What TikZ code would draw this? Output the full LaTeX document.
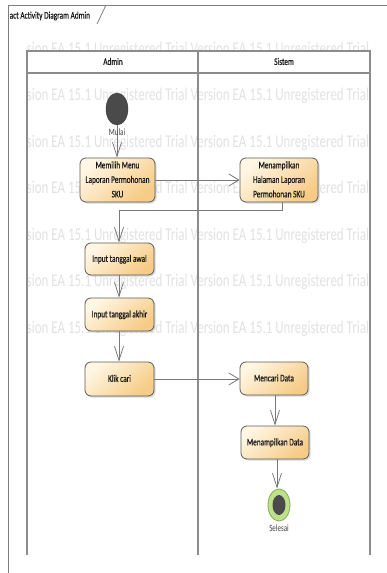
\documentclass[tikz,border=0pt]{standalone}
\usepackage{fontspec}
\usepackage{graphicx}
\setmainfont{Carlito}
\newfontfamily\heavyfont[FakeBold=0.6]{Carlito}
\usetikzlibrary{arrows.meta,shapes.geometric,shadows}

% tall text: the drawing is stretched vertically
\newcommand{\talltext}[1]{\scalebox{1}[1.38]{\begin{tabular}{@{}c@{}}#1\end{tabular}}}
\newcommand{\tallline}[1]{\scalebox{1}[1.38]{#1}}

\definecolor{framegray}{HTML}{7F7F7F}
\definecolor{lanegray}{HTML}{8C8C8C}
\definecolor{flowgray}{HTML}{7A7A7A}
\definecolor{boxborder}{HTML}{5C5C5C}
\definecolor{boxlight}{HTML}{FFF6E4}
\definecolor{boxdark}{HTML}{F6CB85}
\definecolor{markgray}{HTML}{E2E2E2}
\definecolor{nodegray}{HTML}{4A4A4A}
\definecolor{ringgreen}{HTML}{BFE08A}
\definecolor{ringedge}{HTML}{7FAE4E}
\definecolor{inktext}{HTML}{1A1A1A}

\tikzset{
  action/.style={draw=boxborder, line width=0.8pt, rounded corners=6pt,
    top color=boxlight, bottom color=boxdark, shading angle=40,
    inner sep=0pt, align=center, text=inktext,
    font=\heavyfont\fontsize{7.3}{10.5}\selectfont,
    drop shadow={shadow xshift=1.6pt, shadow yshift=-1.6pt, opacity=0.3, fill=gray}},
  flowv/.style={draw=flowgray, line width=0.8pt, -{Straight Barb[length=14pt,width=9pt]}},
  flowh/.style={draw=flowgray, line width=0.8pt, -{Straight Barb[length=10pt,width=12pt]}},
  lane/.style={draw=lanegray, line width=1.1pt},
  caption/.style={inner sep=0pt, text=inktext, font=\heavyfont\fontsize{7.3}{9}\selectfont},
  smalllabel/.style={inner sep=0pt, text=black!75, font=\fontsize{7}{9}\selectfont},
  watermark/.style={inner sep=0pt, text=markgray, font=\fontsize{13}{15}\selectfont}
}

\begin{document}
\begin{tikzpicture}[x=1pt, y=-1pt]
\useasboundingbox (0,0) rectangle (387,573);
\fill[white] (0,0) rectangle (387,573);

% trial watermark behind the partitions
\begin{scope}
  \clip (27,0) rectangle (372,573);
  \foreach \yy [count=\i] in {54,100.5,147,193.5,240,286.5,333.5}
    \node[watermark, anchor=base west] (wm\i) at (9,\yy)
      {\tallline{Version EA 15.1 Unregistered Trial Version EA 15.1 Unregistered Trial}};
\end{scope}

% diagram frame and its name tab
\draw[framegray, line width=1pt] (8,573) -- (8,5) -- (387,5);
\draw[framegray, line width=0.8pt] (106,5) -- (97,24);
\node[caption, anchor=west] (frametitle) at (9.5,16) {\tallline{act Activity Diagram Admin}};

% swimlanes
\fill[white] (27,51) rectangle (370,73);
\draw[lane] (27,555) -- (27,51) -- (370,51) -- (370,555);
\draw[lane] (27,73) -- (370,73);
\draw[lane] (198,51) -- (198,555);
\node[caption] (hAdmin) at (113,61.5) {\tallline{Admin}};
\node[caption] (hSistem) at (284,61.5) {\tallline{Sistem}};

% start node
\node[ellipse, fill=nodegray, draw=nodegray!80!black, line width=0.4pt,
      minimum width=22pt, minimum height=32pt, inner sep=0pt] (init) at (117,109) {};

% actions
\node[action, minimum width=75pt, minimum height=44pt] (memilih) at (117.5,180)
  {\talltext{Memilih Menu\\Laporan Permohonan\\SKU}};
\node[action, minimum width=78pt, minimum height=44pt] (tampilhal) at (279,180)
  {\talltext{Menampilkan\\Halaman Laporan\\Permohonan SKU}};
\node[action, minimum width=69pt, minimum height=32pt] (awal) at (119.5,259)
  {\talltext{Input tanggal awal}};
\node[action, minimum width=69pt, minimum height=33pt] (akhir) at (119.5,314.5)
  {\talltext{Input tanggal akhir}};
\node[action, minimum width=69pt, minimum height=34pt] (klik) at (119.5,379)
  {\talltext{Klik cari}};
\node[action, minimum width=68pt, minimum height=33pt] (mencari) at (274,378.5)
  {\talltext{Mencari Data}};
\node[action, minimum width=68pt, minimum height=33pt] (tampil) at (275,442.5)
  {\talltext{Menampilkan Data}};

% final node
\node[ellipse, fill=ringgreen, draw=ringedge, line width=0.8pt,
      minimum width=22pt, minimum height=32pt, inner sep=0pt] (fin) at (279,505) {};
\node[ellipse, fill=nodegray, minimum width=13pt, minimum height=20pt, inner sep=0pt]
  (fincore) at (fin.center) {};

% control flows
\coordinate (turn) at (0,210);
\draw[flowv] (init.south) -- (init.south |- memilih.north);
\draw[flowh] (memilih.east) -- (memilih.east -| tampilhal.west);
\draw[flowv] ([xshift=3pt]tampilhal.south) -- ([xshift=3pt]tampilhal.south |- turn)
  -| ([xshift=-0.5pt]awal.north);
\draw[flowv] ([xshift=-0.5pt]awal.south) -- ([xshift=-0.5pt]akhir.north);
\draw[flowv] ([xshift=-0.5pt]akhir.south) -- ([xshift=-0.5pt]klik.north);
\draw[flowh] (klik.east) -- (klik.east -| mencari.west);
\draw[flowv] (mencari.south -| tampil) -- (tampil.north);
\draw[flowv] ([xshift=-2pt]tampil.south -| fin) -- ([xshift=-2pt]fin.north);

% node labels
\node[smalllabel] (lblMulai) at (117,132) {\tallline{Mulai}};
\node[smalllabel] (lblSelesai) at (279,528) {\tallline{Selesai}};
\end{tikzpicture}
\end{document}
